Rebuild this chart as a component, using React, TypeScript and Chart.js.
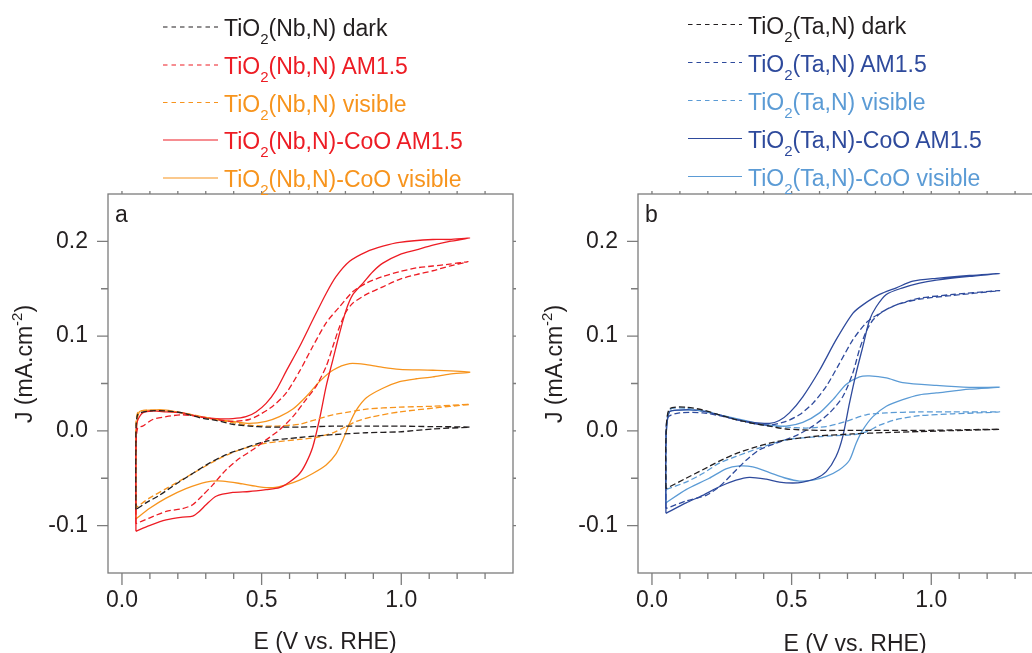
import React, { useEffect, useRef } from "react";
import { Chart, registerables } from "chart.js";

Chart.register(...registerables);

const FONT = '"Liberation Sans", Arial, Helvetica, sans-serif';

// axis ranges and ticks
const X_MIN = -0.05;
const X_MAX = 1.4;
const Y_MIN = -0.15;
const Y_MAX = 0.25;
const X_MAJOR = [0, 0.5, 1.0];
const X_MINOR = [0.1, 0.2, 0.3, 0.4, 0.6, 0.7, 0.8, 0.9, 1.1, 1.2, 1.3];
const Y_MAJOR = [-0.1, 0, 0.1, 0.2];
const Y_MINOR = [-0.05, 0.05, 0.15];

const X_TITLE = "E (V vs. RHE)";
const Y_TITLE_MAIN = "J (mA.cm";
const Y_TITLE_SUP = "-2";
const Y_TITLE_END = ")";

// colours
const BLACK = "#231F20";
const RED = "#ED1C24";
const ORANGE = "#F7941D";
const DBLUE = "#2E4A9C";
const LBLUE = "#5B9BD5";
const FRAME = "#7c7c7c";

// ---------- panel a : TiO2(Nb,N) ----------
const A_DARK_E = [0.05, 0.05, 0.056, 0.098, 0.158, 0.217, 0.277, 0.337, 0.397, 0.456, 0.516, 0.636, 0.755, 0.875, 0.994, 1.113, 1.245,
  1.113, 0.994, 0.875, 0.755, 0.636, 0.516, 0.421, 0.373, 0.313, 0.253, 0.194, 0.134, 0.086, 0.05];
const A_DARK_J = [-0.083, -0.02, 0.017, 0.021, 0.021, 0.019, 0.014, 0.011, 0.007, 0.005, 0.004, 0.004, 0.005, 0.005, 0.005, 0.0045, 0.004,
  0.002, -0.001, -0.002, -0.004, -0.007, -0.011, -0.020, -0.025, -0.034, -0.045, -0.056, -0.068, -0.076, -0.083];

const A_AM_E = [0.05, 0.05, 0.056, 0.074, 0.11, 0.158, 0.217, 0.277, 0.337, 0.397, 0.456, 0.492, 0.54, 0.588, 0.636, 0.683, 0.731, 0.779, 0.827, 0.875, 0.934, 0.994, 1.054, 1.113, 1.173, 1.239,
  1.173, 1.113, 1.054, 0.994, 0.934, 0.875, 0.827, 0.803, 0.779, 0.755, 0.731, 0.695, 0.659, 0.612, 0.564, 0.516, 0.468, 0.421, 0.373, 0.325, 0.289, 0.253, 0.217, 0.158, 0.098, 0.05];
const A_AM_J = [-0.098, -0.02, 0.003, 0.005, 0.012, 0.015, 0.017, 0.015, 0.012, 0.010, 0.012, 0.017, 0.026, 0.040, 0.063, 0.089, 0.114, 0.131, 0.147, 0.156, 0.163, 0.168, 0.172, 0.174, 0.176, 0.1785,
  0.174, 0.169, 0.165, 0.160, 0.152, 0.144, 0.135, 0.126, 0.110, 0.089, 0.068, 0.047, 0.033, 0.015, 0.001, -0.0095, -0.020, -0.029, -0.041, -0.057, -0.068, -0.078, -0.082, -0.085, -0.092, -0.098];

const A_VIS_E = [0.05, 0.05, 0.056, 0.11, 0.217, 0.337, 0.456, 0.54, 0.636, 0.695, 0.755, 0.815, 0.875, 0.994, 1.113, 1.245,
  1.113, 0.994, 0.898, 0.839, 0.791, 0.755, 0.695, 0.636, 0.516, 0.421, 0.337, 0.253, 0.158, 0.098, 0.05];
const A_VIS_J = [-0.081, -0.02, 0.019, 0.022, 0.019, 0.012, 0.006, 0.005, 0.007, 0.012, 0.017, 0.020, 0.023, 0.025, 0.026, 0.028,
  0.024, 0.020, 0.015, 0.010, 0.003, -0.002, -0.007, -0.009, -0.013, -0.020, -0.031, -0.045, -0.061, -0.071, -0.081];

const A_COO_AM_E = [0.05, 0.05, 0.055, 0.074, 0.11, 0.158, 0.217, 0.277, 0.337, 0.397, 0.444, 0.48, 0.516, 0.552, 0.588, 0.636, 0.683, 0.731, 0.767, 0.815, 0.875, 0.934, 0.994, 1.113, 1.173, 1.245,
  1.173, 1.113, 1.054, 0.994, 0.934, 0.898, 0.863, 0.827, 0.803, 0.779, 0.755, 0.731, 0.707, 0.683, 0.659, 0.636, 0.6, 0.564, 0.516, 0.456, 0.397, 0.337, 0.301, 0.277, 0.253, 0.217, 0.158, 0.098, 0.05];
const A_COO_AM_J = [-0.106, -0.01, 0.010, 0.019, 0.021, 0.020, 0.019, 0.015, 0.013, 0.013, 0.015, 0.020, 0.029, 0.043, 0.063, 0.089, 0.117, 0.145, 0.163, 0.179, 0.189, 0.195, 0.199, 0.202, 0.202, 0.2035,
  0.200, 0.196, 0.191, 0.186, 0.177, 0.168, 0.156, 0.144, 0.128, 0.103, 0.075, 0.047, 0.012, -0.017, -0.034, -0.045, -0.054, -0.060, -0.062, -0.064, -0.065, -0.069, -0.078, -0.085, -0.090, -0.091, -0.094, -0.100, -0.106];

const A_COO_VIS_E = [0.05, 0.05, 0.062, 0.11, 0.158, 0.217, 0.277, 0.337, 0.397, 0.456, 0.516, 0.564, 0.612, 0.659, 0.707, 0.755, 0.815, 0.875, 0.934, 0.994, 1.113, 1.245,
  1.173, 1.113, 1.054, 0.994, 0.934, 0.875, 0.839, 0.815, 0.791, 0.767, 0.731, 0.683, 0.636, 0.588, 0.54, 0.492, 0.432, 0.361, 0.301, 0.229, 0.158, 0.098, 0.05];
const A_COO_VIS_J = [-0.093, -0.01, 0.020, 0.022, 0.022, 0.019, 0.015, 0.012, 0.010, 0.008, 0.010, 0.015, 0.023, 0.036, 0.052, 0.064, 0.071, 0.070, 0.067, 0.065, 0.064, 0.062,
  0.060, 0.057, 0.055, 0.052, 0.045, 0.035, 0.022, 0.008, -0.0095, -0.024, -0.036, -0.045, -0.052, -0.057, -0.060, -0.059, -0.056, -0.053, -0.054, -0.061, -0.071, -0.082, -0.093];

// ---------- panel b : TiO2(Ta,N) ----------
const B_DARK_E = [0.05, 0.05, 0.062, 0.122, 0.182, 0.241, 0.301, 0.361, 0.421, 0.480, 0.600, 0.719, 0.839, 0.958, 1.078, 1.245,
  1.078, 0.958, 0.839, 0.719, 0.600, 0.480, 0.421, 0.361, 0.301, 0.241, 0.182, 0.122, 0.05];
const B_DARK_J = [-0.061, -0.01, 0.023, 0.025, 0.022, 0.017, 0.012, 0.008, 0.005, 0.002, 0.0005, 0.0005, 0.0005, 0.0005, 0.001, 0.0017,
  0.0003, -0.0007, -0.0018, -0.0032, -0.0053, -0.0095, -0.013, -0.018, -0.024, -0.032, -0.041, -0.050, -0.061];

const B_AM_E = [0.05, 0.05, 0.056, 0.098, 0.182, 0.241, 0.301, 0.361, 0.421, 0.480, 0.528, 0.576, 0.624, 0.671, 0.719, 0.767, 0.815, 0.875, 0.958, 1.078, 1.245,
  1.078, 0.958, 0.875, 0.827, 0.791, 0.767, 0.743, 0.719, 0.683, 0.636, 0.576, 0.516, 0.444, 0.385, 0.337, 0.289, 0.241, 0.194, 0.122, 0.05];
const B_AM_J = [-0.082, -0.02, 0.014, 0.019, 0.019, 0.016, 0.012, 0.008, 0.006, 0.010, 0.017, 0.029, 0.047, 0.071, 0.096, 0.114, 0.124, 0.133, 0.140, 0.144, 0.148,
  0.143, 0.139, 0.133, 0.126, 0.117, 0.105, 0.086, 0.061, 0.036, 0.019, 0.005, -0.005, -0.013, -0.020, -0.031, -0.045, -0.059, -0.068, -0.074, -0.082];

const B_VIS_E = [0.05, 0.05, 0.062, 0.122, 0.241, 0.361, 0.421, 0.480, 0.552, 0.624, 0.695, 0.767, 0.839, 0.958, 1.078, 1.245,
  1.078, 0.958, 0.875, 0.815, 0.767, 0.719, 0.600, 0.480, 0.385, 0.301, 0.241, 0.182, 0.122, 0.05];
const B_VIS_J = [-0.062, -0.01, 0.022, 0.024, 0.017, 0.008, 0.005, 0.004, 0.003, 0.0046, 0.010, 0.017, 0.019, 0.020, 0.020, 0.020,
  0.018, 0.016, 0.012, 0.006, -0.001, -0.004, -0.006, -0.0095, -0.018, -0.027, -0.034, -0.045, -0.054, -0.062];

const B_COO_AM_E = [0.05, 0.05, 0.062, 0.098, 0.158, 0.241, 0.301, 0.361, 0.421, 0.456, 0.492, 0.540, 0.600, 0.659, 0.719, 0.755, 0.815, 0.875, 0.934, 1.018, 1.137, 1.245,
  1.137, 1.018, 0.958, 0.898, 0.839, 0.803, 0.779, 0.755, 0.731, 0.707, 0.683, 0.659, 0.624, 0.588, 0.540, 0.504, 0.456, 0.409, 0.349, 0.301, 0.241, 0.182, 0.122, 0.05];
const B_COO_AM_J = [-0.087, -0.01, 0.020, 0.022, 0.022, 0.017, 0.012, 0.009, 0.008, 0.011, 0.019, 0.036, 0.064, 0.096, 0.124, 0.133, 0.144, 0.151, 0.158, 0.161, 0.164, 0.166,
  0.163, 0.159, 0.156, 0.151, 0.144, 0.131, 0.117, 0.089, 0.061, 0.029, -0.006, -0.027, -0.043, -0.050, -0.054, -0.055, -0.054, -0.051, -0.049, -0.052, -0.059, -0.068, -0.076, -0.087];

const B_COO_VIS_E = [0.05, 0.05, 0.062, 0.098, 0.182, 0.241, 0.361, 0.421, 0.480, 0.540, 0.600, 0.648, 0.695, 0.743, 0.779, 0.839, 0.898, 1.018, 1.137, 1.245,
  1.137, 1.018, 0.958, 0.898, 0.839, 0.791, 0.755, 0.731, 0.707, 0.671, 0.624, 0.576, 0.528, 0.480, 0.421, 0.361, 0.313, 0.265, 0.205, 0.122, 0.05];
const B_COO_VIS_J = [-0.076, -0.01, 0.020, 0.022, 0.021, 0.017, 0.009, 0.006, 0.005, 0.009, 0.019, 0.033, 0.049, 0.057, 0.058, 0.056, 0.051, 0.048, 0.046, 0.046,
  0.044, 0.040, 0.038, 0.033, 0.026, 0.015, 0.001, -0.013, -0.031, -0.041, -0.048, -0.052, -0.053, -0.050, -0.044, -0.038, -0.037, -0.040, -0.050, -0.062, -0.076];

// legend labels (after "TiO" + subscript 2)
const A_LABELS = ["(Nb,N) dark", "(Nb,N) AM1.5", "(Nb,N) visible", "(Nb,N)-CoO AM1.5", "(Nb,N)-CoO visible"];
const B_LABELS = ["(Ta,N) dark", "(Ta,N) AM1.5", "(Ta,N) visible", "(Ta,N)-CoO AM1.5", "(Ta,N)-CoO visible"];
const A_COLORS = [BLACK, RED, ORANGE, RED, ORANGE];
const B_COLORS = [BLACK, DBLUE, LBLUE, DBLUE, LBLUE];
const DASHED = [true, true, true, false, false];

type Series = { E: number[]; J: number[] };
const A_SERIES: Series[] = [
  { E: A_DARK_E, J: A_DARK_J },
  { E: A_AM_E, J: A_AM_J },
  { E: A_VIS_E, J: A_VIS_J },
  { E: A_COO_AM_E, J: A_COO_AM_J },
  { E: A_COO_VIS_E, J: A_COO_VIS_J },
];
const B_SERIES: Series[] = [
  { E: B_DARK_E, J: B_DARK_J },
  { E: B_AM_E, J: B_AM_J },
  { E: B_VIS_E, J: B_VIS_J },
  { E: B_COO_AM_E, J: B_COO_AM_J },
  { E: B_COO_VIS_E, J: B_COO_VIS_J },
];

function makeDatasets(series: Series[], colors: string[], labels: string[]) {
  return series.map((s, i) => {
    const n = Math.min(s.E.length, s.J.length);
    const pts = [] as { x: number; y: number }[];
    for (let k = 0; k < n; k++) pts.push({ x: s.E[k], y: s.J[k] });
    return {
      label: "TiO2" + labels[i],
      data: pts,
      showLine: true,
      borderColor: colors[i],
      backgroundColor: colors[i],
      borderWidth: 1.3,
      borderDash: DASHED[i] ? [6, 3] : [],
      pointRadius: 0,
      tension: 0.25,
      fill: false,
    };
  });
}

function makeDecor(letter: string, titleCenter: number, titleBase: number) {
  return {
    id: "decor_" + letter,
    afterDraw(chart: any) {
      const ctx = chart.ctx as CanvasRenderingContext2D;
      const { left, right, top, bottom } = chart.chartArea;
      const xs = chart.scales.x;
      const ys = chart.scales.y;
      ctx.save();
      ctx.strokeStyle = FRAME;
      ctx.lineWidth = 1.3;
      ctx.setLineDash([]);
      ctx.strokeRect(left, top, right - left, bottom - top);
      ctx.beginPath();
      X_MAJOR.forEach((v) => {
        const p = xs.getPixelForValue(v);
        ctx.moveTo(p, bottom); ctx.lineTo(p, bottom + 12);
        ctx.moveTo(p, top); ctx.lineTo(p, top - 3);
      });
      X_MINOR.forEach((v) => {
        const p = xs.getPixelForValue(v);
        ctx.moveTo(p, bottom); ctx.lineTo(p, bottom + 6);
        ctx.moveTo(p, top); ctx.lineTo(p, top - 3);
      });
      Y_MAJOR.forEach((v) => {
        const p = ys.getPixelForValue(v);
        ctx.moveTo(left, p); ctx.lineTo(left - 11, p);
        ctx.moveTo(right, p); ctx.lineTo(right + 3, p);
      });
      Y_MINOR.forEach((v) => {
        const p = ys.getPixelForValue(v);
        ctx.moveTo(left, p); ctx.lineTo(left - 7, p);
        ctx.moveTo(right, p); ctx.lineTo(right + 3, p);
      });
      ctx.stroke();

      ctx.fillStyle = BLACK;
      ctx.font = `23px ${FONT}`;
      ctx.textBaseline = "alphabetic";
      ctx.textAlign = "left";
      ctx.fillText(letter, left + 7, 222);

      ctx.textAlign = "center";
      ctx.fillText(X_TITLE, titleCenter, titleBase);

      // rotated y title with superscript
      ctx.translate(32, 364);
      ctx.rotate(-Math.PI / 2);
      ctx.textAlign = "left";
      ctx.font = `23px ${FONT}`;
      const w1 = ctx.measureText(Y_TITLE_MAIN).width;
      const w3 = ctx.measureText(Y_TITLE_END).width;
      ctx.font = `15px ${FONT}`;
      const w2 = ctx.measureText(Y_TITLE_SUP).width;
      const start = -(w1 + w2 + w3) / 2;
      ctx.font = `23px ${FONT}`;
      ctx.fillText(Y_TITLE_MAIN, start, 0);
      ctx.font = `15px ${FONT}`;
      ctx.fillText(Y_TITLE_SUP, start + w1, -10);
      ctx.font = `23px ${FONT}`;
      ctx.fillText(Y_TITLE_END, start + w1 + w2, 0);
      ctx.restore();
    },
  };
}

function makeConfig(series: Series[], colors: string[], labels: string[], letter: string, titleBase: number): any {
  return {
    type: "scatter",
    data: { datasets: makeDatasets(series, colors, labels) },
    options: {
      animation: false,
      responsive: false,
      devicePixelRatio: 1,
      layout: { padding: { left: 0, top: 194, right: 17, bottom: 0 } },
      plugins: { legend: { display: false }, tooltip: { enabled: false }, title: { display: false } },
      elements: { point: { radius: 0 } },
      scales: {
        x: {
          type: "linear",
          min: X_MIN,
          max: X_MAX,
          grid: { display: false, drawTicks: false },
          border: { display: false },
          afterBuildTicks: (s: any) => { s.ticks = X_MAJOR.map((v) => ({ value: v })); },
          afterFit: (s: any) => { s.height = 80; },
          ticks: {
            padding: 14,
            color: BLACK,
            font: { size: 23, family: FONT },
            maxRotation: 0,
            autoSkip: false,
            callback: (v: any) => Number(v).toFixed(1),
          },
        },
        y: {
          type: "linear",
          min: Y_MIN,
          max: Y_MAX,
          grid: { display: false, drawTicks: false },
          border: { display: false },
          afterBuildTicks: (s: any) => { s.ticks = Y_MAJOR.map((v) => ({ value: v })); },
          afterFit: (s: any) => { s.width = 108; },
          ticks: {
            padding: 20,
            color: BLACK,
            font: { size: 23, family: FONT },
            autoSkip: false,
            callback: (v: any) => Number(v).toFixed(1),
          },
        },
      },
    },
    plugins: [makeDecor(letter, 325, titleBase)],
  };
}

function Legend({ labels, colors, baseY, lineX0, lineX1, textX }: { labels: string[]; colors: string[]; baseY: number[]; lineX0: number; lineX1: number; textX: number }) {
  return (
    <g>
      {labels.map((lab, i) => (
        <g key={i}>
          <line x1={lineX0} x2={lineX1} y1={baseY[i] - 9} y2={baseY[i] - 9} stroke={colors[i]} strokeWidth={1.1} strokeDasharray={DASHED[i] ? "4.5 4" : undefined} />
          <text x={textX} y={baseY[i]} fill={colors[i]} fontSize={23} fontFamily={FONT}>
            <tspan>TiO</tspan>
            <tspan fontSize={15} dy={8}>2</tspan>
            <tspan dy={-8}>{lab}</tspan>
          </text>
        </g>
      ))}
    </g>
  );
}

const A_BASE = [36, 74, 111.5, 149, 187];
const B_BASE = [33.5, 71.5, 109.5, 147.5, 185.5];

export default function App() {
  const refA = useRef<HTMLCanvasElement | null>(null);
  const refB = useRef<HTMLCanvasElement | null>(null);

  useEffect(() => {
    const ca = new Chart(refA.current as HTMLCanvasElement, makeConfig(A_SERIES, A_COLORS, A_LABELS, "a", 649));
    const cb = new Chart(refB.current as HTMLCanvasElement, makeConfig(B_SERIES, B_COLORS, B_LABELS, "b", 651));
    return () => { ca.destroy(); cb.destroy(); };
  }, []);

  return (
    <div style={{ position: "fixed", left: 0, top: 0, width: 1032, height: 653, overflow: "hidden", background: "#fff" }}>
      <div style={{ position: "absolute", left: 0, top: 0, width: 530, height: 653 }}>
        <canvas ref={refA} width={530} height={653} style={{ display: "block", width: 530, height: 653 }} />
      </div>
      <div style={{ position: "absolute", left: 530, top: 0, width: 530, height: 653 }}>
        <canvas ref={refB} width={530} height={653} style={{ display: "block", width: 530, height: 653 }} />
      </div>
      <svg width={1032} height={200} style={{ position: "absolute", left: 0, top: 0, pointerEvents: "none" }}>
        <Legend labels={A_LABELS} colors={A_COLORS} baseY={A_BASE} lineX0={163} lineX1={218} textX={224} />
        <Legend labels={B_LABELS} colors={B_COLORS} baseY={B_BASE} lineX0={688} lineX1={742} textX={748} />
      </svg>
    </div>
  );
}
